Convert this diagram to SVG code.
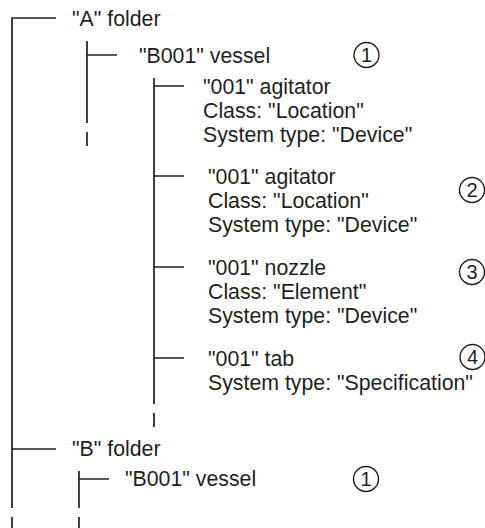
<svg xmlns="http://www.w3.org/2000/svg" width="485" height="528" viewBox="0 0 485 528">
  <style>
    .t { font-family: "Liberation Sans", Arial, sans-serif; font-size: 21.3px; fill: #1f1f1f; }
    .n { font-family: "Liberation Sans", Arial, sans-serif; font-size: 20px; fill: #1f1f1f; text-anchor: middle; }
    .ln { stroke: #1f1f1f; stroke-width: 1.7; fill: none; }
    .c { stroke: #1f1f1f; stroke-width: 1.4; fill: none; }
  </style>
  <rect width="485" height="528" fill="#ffffff"/>
  <g id="connectors">
    <path class="ln" d="M56 18 H12 V508 M12 517 V528 M12 449 H56"/>
    <path class="ln" d="M87 41 V123 M87 132 V146 M87 55 H117"/>
    <path class="ln" d="M154 78 V404 M154 413 V427 M154 86 H184 M154 176 H184 M154 267 H184 M154 358 H184"/>
    <path class="ln" d="M79 471 V508 M79 517 V528 M79 479 H109"/>
  </g>
  <g id="folderA">
    <text class="t" x="72" y="25.5">"A" folder</text>
  </g>
  <g id="vesselB001a">
    <text class="t" x="139" y="62.5">"B001" vessel</text>
    <circle class="c" cx="366.5" cy="55" r="12.5"/>
    <text class="n" x="366.5" y="62">1</text>
  </g>
  <g id="agitator1">
    <text class="t" x="203" y="94">"001" agitator</text>
    <text class="t" x="203" y="118">Class: "Location"</text>
    <text class="t" x="203" y="142">System type: "Device"</text>
  </g>
  <g id="agitator2">
    <text class="t" x="208" y="184">"001" agitator</text>
    <text class="t" x="208" y="208">Class: "Location"</text>
    <text class="t" x="208" y="232">System type: "Device"</text>
    <circle class="c" cx="472" cy="190" r="12.5"/>
    <text class="n" x="472" y="197">2</text>
  </g>
  <g id="nozzle">
    <text class="t" x="208" y="275">"001" nozzle</text>
    <text class="t" x="208" y="299">Class: "Element"</text>
    <text class="t" x="208" y="323">System type: "Device"</text>
    <circle class="c" cx="472" cy="272" r="12.5"/>
    <text class="n" x="472" y="279">3</text>
  </g>
  <g id="tab">
    <text class="t" x="208" y="366">"001" tab</text>
    <text class="t" x="208" y="390">System type: "Specification"</text>
    <circle class="c" cx="472.5" cy="357" r="12.5"/>
    <text class="n" x="472.5" y="364">4</text>
  </g>
  <g id="folderB">
    <text class="t" x="72" y="456">"B" folder</text>
  </g>
  <g id="vesselB001b">
    <text class="t" x="125" y="486">"B001" vessel</text>
    <circle class="c" cx="366" cy="479" r="12.5"/>
    <text class="n" x="366" y="486">1</text>
  </g>
</svg>
